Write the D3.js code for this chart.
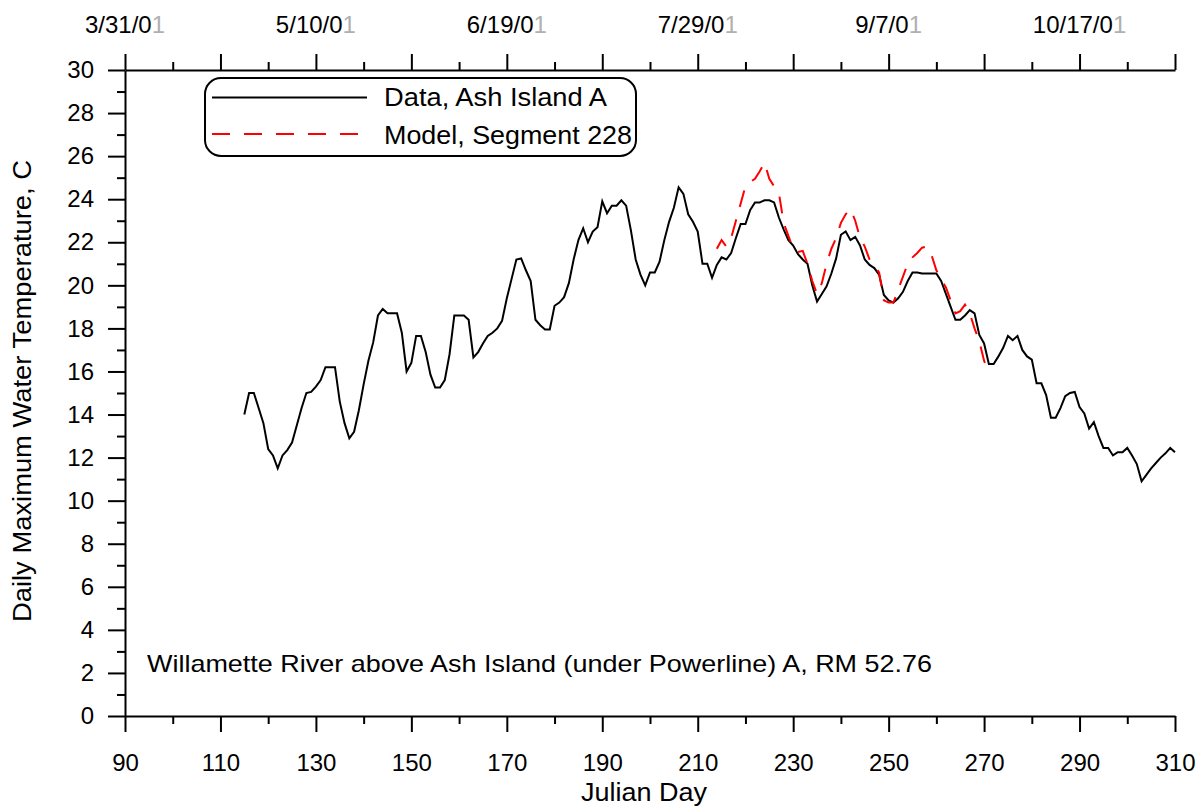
<!DOCTYPE html>
<html>
<head>
<meta charset="utf-8">
<script src="https://cdn.jsdelivr.net/npm/d3@7"></script>
<style>
  body { margin: 0; background: #fff; }
  svg text { font-family: "Liberation Sans", Arial, sans-serif; fill: #000; }
  .axis path, .axis line { stroke: #000; stroke-width: 2px; }
</style>
</head>
<body>
<div id="chart"></div>
<script>
// Julian day ticks (bottom) and date labels (top)
const dayTicks = [90, 110, 130, 150, 170, 190, 210, 230, 250, 270, 290, 310];
const dayMinorTicks = [100, 120, 140, 160, 180, 200, 220, 240, 260, 280, 300];
const dateTickDays = [90, 130, 170, 210, 250, 290];
const dateLabels = ['3/31/01', '5/10/01', '6/19/01', '7/29/01', '9/7/01', '10/17/01'];
const tempTicks = [0, 2, 4, 6, 8, 10, 12, 14, 16, 18, 20, 22, 24, 26, 28, 30];
const tempMinorTicks = [1, 3, 5, 7, 9, 11, 13, 15, 17, 19, 21, 23, 25, 27, 29];

// Data, Ash Island A: daily values starting at day 115
const dataStartDay = 115;
const dataTemp = [
  14.0, 15.0, 15.0, 14.3, 13.6, 12.4, 12.1, 11.5, 12.1, 12.35,
  12.7, 13.5, 14.3, 15.0, 15.05, 15.3, 15.6, 16.2, 16.2, 16.2,
  14.6, 13.6, 12.9, 13.2, 14.2, 15.4, 16.5, 17.35, 18.6, 18.9,
  18.7, 18.7, 18.7, 17.8, 16.0, 16.4, 17.65, 17.65, 16.9, 15.85,
  15.25, 15.25, 15.6, 16.8, 18.6, 18.6, 18.6, 18.4, 16.65, 16.9,
  17.3, 17.65, 17.8, 18.0, 18.35, 19.4, 20.3, 21.2, 21.25, 20.7,
  20.2, 18.4, 18.15, 17.95, 17.95, 19.05, 19.2, 19.45, 20.1, 21.2,
  22.1, 22.65, 22.0, 22.5, 22.7, 23.9, 23.35, 23.7, 23.7, 23.95,
  23.7, 22.55, 21.2, 20.5, 20.0, 20.6, 20.6, 21.1, 22.1, 22.95,
  23.6, 24.55, 24.25, 23.3, 22.95, 22.5, 21.0, 21.0, 20.35, 20.95,
  21.3, 21.2, 21.5, 22.2, 22.85, 22.85, 23.5, 23.85, 23.85, 23.95,
  23.95, 23.85, 23.15, 22.6, 22.1, 21.85, 21.45, 21.2, 21.0, 20.0,
  19.25, 19.6, 19.95, 20.55, 21.25, 22.35, 22.5, 22.1, 22.25, 21.85,
  21.2, 20.95, 20.8, 20.5, 19.55, 19.3, 19.2, 19.4, 19.7, 20.2,
  20.6, 20.6, 20.55, 20.55, 20.55, 20.55, 20.2, 19.6, 19.0, 18.4,
  18.4, 18.6, 18.85, 18.7, 17.7, 17.3, 16.35, 16.35, 16.7, 17.1,
  17.65, 17.45, 17.65, 17.0, 16.7, 16.55, 15.45, 15.45, 14.9, 13.85,
  13.85, 14.3, 14.85, 15.0, 15.05, 14.35, 14.05, 13.35, 13.65, 13.0,
  12.45, 12.45, 12.1, 12.25, 12.25, 12.45, 12.1, 11.7, 10.9, 11.2,
  11.5, 11.75, 12.0, 12.2, 12.45, 12.25
];

// Model, Segment 228: daily values starting at day 214
const modelStartDay = 214;
const modelTemp = [
  21.7, 22.1, 21.8, 22.2, 23.0, 23.8, 24.6, 24.8, 24.95, 25.3,
  25.7, 24.95, 24.6, 24.3, 22.9, 22.3, 21.7, 21.55, 21.6, 21.0,
  20.2, 19.6, 20.1, 21.0, 21.7, 22.2, 22.9, 23.3, 23.55, 23.0,
  22.2, 21.8, 21.2, 20.9, 20.6, 19.3, 19.2, 19.2, 19.8, 20.4,
  21.0, 21.3, 21.5, 21.75, 21.8, 21.4, 20.7, 20.3, 19.9, 19.3,
  18.7, 18.8, 19.1, 18.7, 18.0, 17.4, 16.5, 15.9
];

const legendLabels = ['Data, Ash Island A', 'Model, Segment 228'];
const noteText = 'Willamette River above Ash Island (under Powerline) A, RM 52.76';

const W = 1203, H = 810;
const margin = { top: 70, right: 28, bottom: 94, left: 125 };
const width = W - margin.left - margin.right;
const height = H - margin.top - margin.bottom;

const svg = d3.select('#chart').append('svg')
  .attr('width', W)
  .attr('height', H);
svg.append('rect').attr('width', W).attr('height', H).attr('fill', '#fff');

const g = svg.append('g').attr('transform', `translate(${margin.left},${margin.top})`);

const x = d3.scaleLinear().domain([90, 310]).range([0, width]);
const y = d3.scaleLinear().domain([0, 30]).range([height, 0]);

// Bottom axis
g.append('g').attr('class', 'axis')
  .attr('transform', `translate(0,${height})`)
  .call(d3.axisBottom(x).tickValues(dayTicks).tickSize(16).tickSizeOuter(0).tickPadding(22))
  .call((a) => a.selectAll('text').attr('font-size', 24));
g.append('g').attr('class', 'axis')
  .attr('transform', `translate(0,${height})`)
  .call(d3.axisBottom(x).tickValues(dayMinorTicks).tickSize(8).tickSizeOuter(0).tickFormat(''))
  .call((a) => a.select('.domain').remove());

// Top axis
g.append('g').attr('class', 'axis')
  .call(d3.axisTop(x).tickValues(dayTicks).tickSize(16).tickSizeOuter(0).tickFormat(''));
g.append('g').attr('class', 'axis')
  .call(d3.axisTop(x).tickValues(dayMinorTicks).tickSize(8).tickSizeOuter(0).tickFormat(''))
  .call((a) => a.select('.domain').remove());

// Date labels on top (the last digit shows faded in the original)
dateTickDays.forEach((d, i) => {
  const lbl = dateLabels[i];
  const t = svg.append('text')
    .attr('x', margin.left + x(d))
    .attr('y', 33)
    .attr('text-anchor', 'middle')
    .attr('font-size', 24);
  t.append('tspan').text(lbl.slice(0, -1));
  t.append('tspan').style('fill', '#b0b0b0').text(lbl.slice(-1));
});

// Left axis
g.append('g').attr('class', 'axis')
  .call(d3.axisLeft(y).tickValues(tempTicks).tickSize(17).tickSizeOuter(0).tickPadding(14))
  .call((a) => a.selectAll('text').attr('font-size', 24));
g.append('g').attr('class', 'axis')
  .call(d3.axisLeft(y).tickValues(tempMinorTicks).tickSize(8).tickSizeOuter(0).tickFormat(''))
  .call((a) => a.select('.domain').remove());

// Axis titles
svg.append('text')
  .attr('x', 581)
  .attr('y', 801)
  .attr('font-size', 25)
  .attr('textLength', 126)
  .attr('lengthAdjust', 'spacingAndGlyphs')
  .text('Julian Day');
svg.append('text')
  .attr('transform', 'translate(31,622) rotate(-90)')
  .attr('font-size', 25)
  .attr('textLength', 462)
  .attr('lengthAdjust', 'spacingAndGlyphs')
  .text('Daily Maximum Water Temperature, C');

// Lines
const line = d3.line().x((d) => x(d[0])).y((d) => y(d[1]));
const dataPts = dataTemp.map((v, i) => [dataStartDay + i, v]);
const modelPts = modelTemp.map((v, i) => [modelStartDay + i, v]);

g.append('path')
  .datum(dataPts)
  .attr('fill', 'none')
  .attr('stroke', '#000')
  .attr('stroke-width', 2)
  .attr('d', line);

g.append('path')
  .datum(modelPts)
  .attr('fill', 'none')
  .attr('stroke', '#ff0000')
  .attr('stroke-width', 2)
  .attr('stroke-dasharray', '17,13')
  .attr('d', line);

// Legend
const legendWidths = [223, 248];
const lg = svg.append('g').attr('transform', 'translate(205,78)');
lg.append('rect')
  .attr('width', 431).attr('height', 78)
  .attr('rx', 16).attr('ry', 16)
  .attr('fill', '#fff').attr('stroke', '#000').attr('stroke-width', 2);
lg.append('line')
  .attr('x1', 7).attr('x2', 162).attr('y1', 19.5).attr('y2', 19.5)
  .attr('stroke', '#000').attr('stroke-width', 2);
lg.append('line')
  .attr('x1', 7).attr('x2', 160).attr('y1', 56).attr('y2', 56)
  .attr('stroke', '#ff0000').attr('stroke-width', 2)
  .attr('stroke-dasharray', '18,14');
legendLabels.forEach((lbl, i) => {
  lg.append('text')
    .attr('x', 179)
    .attr('y', 28 + i * 37.5)
    .attr('font-size', 25)
    .attr('textLength', legendWidths[i])
    .attr('lengthAdjust', 'spacingAndGlyphs')
    .text(lbl);
});

// Note
svg.append('text')
  .attr('x', 147)
  .attr('y', 672)
  .attr('font-size', 24)
  .attr('textLength', 785)
  .attr('lengthAdjust', 'spacingAndGlyphs')
  .text(noteText);
</script>
</body>
</html>
